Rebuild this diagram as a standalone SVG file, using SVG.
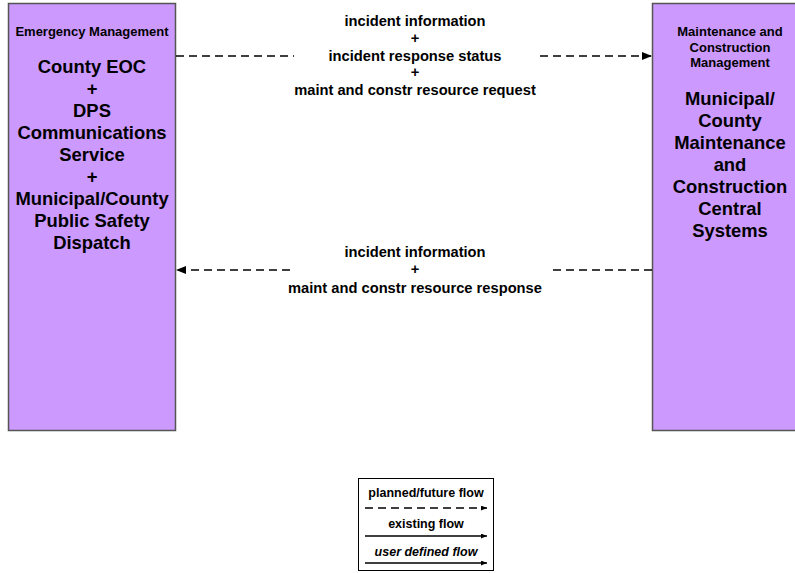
<svg xmlns="http://www.w3.org/2000/svg" width="795" height="573" viewBox="0 0 795 573">
<style>
.box{fill:#CC99FF;stroke:#555;stroke-width:1.5}
text{font-family:"Liberation Sans",Arial,sans-serif;font-weight:bold;fill:#000;text-anchor:middle}
.big{font-size:18.4px}
.hdr{font-size:13px}
.lbl{font-size:14.7px}
.leg{font-size:12.5px}
.flow{stroke:#000;stroke-width:1.4;fill:none}
.dash{stroke-dasharray:8,5}
</style>
<defs>
<marker id="ah" markerWidth="10" markerHeight="8" refX="9" refY="4" orient="auto" markerUnits="userSpaceOnUse">
<path d="M0,0 L10,4 L0,8 z" fill="#000"/>
</marker>
<marker id="ahs" markerWidth="6" markerHeight="5" refX="6" refY="2.5" orient="auto" markerUnits="userSpaceOnUse">
<path d="M0,0 L6,2.5 L0,5 z" fill="#000"/>
</marker>
</defs>
<rect width="795" height="573" fill="#fff"/>
<g id="node-em">
<rect class="box" x="8.5" y="3.5" width="167" height="427"/>
<text class="hdr" x="92" y="36">Emergency Management</text>
<text class="big" x="92" y="73">County EOC</text>
<text class="big" x="92" y="95">+</text>
<text class="big" x="92" y="117">DPS</text>
<text class="big" x="92" y="139">Communications</text>
<text class="big" x="92" y="161">Service</text>
<text class="big" x="92" y="183">+</text>
<text class="big" x="92" y="205">Municipal/County</text>
<text class="big" x="92" y="227">Public Safety</text>
<text class="big" x="92" y="249">Dispatch</text>
</g>
<g id="node-mcm">
<rect class="box" x="652.5" y="3.5" width="160" height="427"/>
<text class="hdr" x="730" y="36">Maintenance and</text>
<text class="hdr" x="730" y="52">Construction</text>
<text class="hdr" x="730" y="67">Management</text>
<text class="big" x="730" y="105">Municipal/</text>
<text class="big" x="730" y="127">County</text>
<text class="big" x="730" y="149">Maintenance</text>
<text class="big" x="730" y="171">and</text>
<text class="big" x="730" y="193">Construction</text>
<text class="big" x="730" y="215">Central</text>
<text class="big" x="730" y="237">Systems</text>
</g>
<g id="connectors">
<path class="flow dash" d="M176,56 H294"/>
<path class="flow dash" d="M540,56 H651" marker-end="url(#ah)"/>
<text class="lbl" x="415" y="26">incident information</text>
<text class="lbl" x="415" y="43">+</text>
<text class="lbl" x="415" y="61">incident response status</text>
<text class="lbl" x="415" y="77">+</text>
<text class="lbl" x="415" y="95">maint and constr resource request</text>
<path class="flow dash" d="M652,270 H548"/>
<path class="flow dash" d="M290,270 H177" marker-end="url(#ah)"/>
<text class="lbl" x="415" y="257">incident information</text>
<text class="lbl" x="415" y="274">+</text>
<text class="lbl" x="415" y="293">maint and constr resource response</text>
</g>
<g id="legend">
<rect x="358.5" y="478.5" width="135" height="92" fill="#fff" stroke="#000" stroke-width="1"/>
<text class="leg" x="426" y="497">planned/future flow</text>
<path class="flow dash" d="M365,508 H487" stroke-dasharray="4,3" stroke-width="1" marker-end="url(#ahs)"/>
<text class="leg" x="426" y="528">existing flow</text>
<path class="flow" d="M365,536 H487" stroke-width="1" marker-end="url(#ahs)"/>
<text class="leg" x="426" y="556" font-style="italic">user defined flow</text>
<path class="flow" d="M365,563 H487" stroke-width="1" marker-end="url(#ahs)"/>
</g>
</svg>
